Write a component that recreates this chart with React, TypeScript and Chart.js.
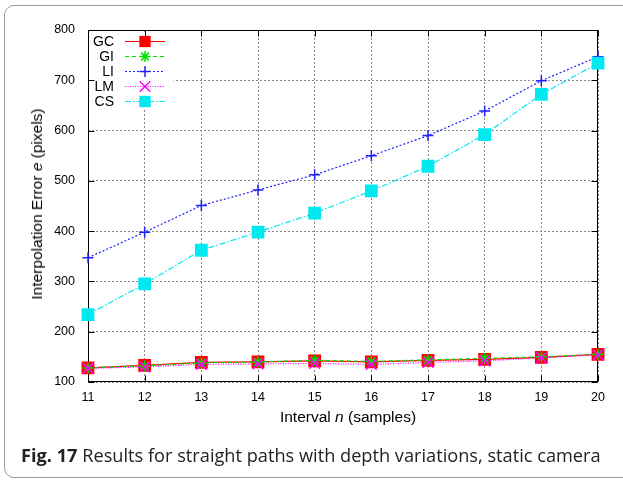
import React, { useEffect, useRef } from 'react';
import { Chart, registerables } from 'chart.js';

Chart.register(...registerables);

const intervals = ['11', '12', '13', '14', '15', '16', '17', '18', '19', '20'];
const gcValues = [128, 133, 139, 140, 142, 140, 143, 145, 149, 155];
const giValues = [128, 132, 138, 140, 143, 141, 144, 147, 150, 155];
const liValues = [347, 398, 451, 482, 512, 550, 590, 639, 699, 747];
const lmValues = [127, 130, 135, 136, 137, 135, 139, 142, 148, 154];
const csValues = [234, 295, 362, 398, 436, 480, 529, 592, 672, 734];
const seriesNames = ['GC', 'GI', 'LI', 'LM', 'CS'];

const FONT = '"Liberation Sans", Arial, Helvetica, sans-serif';

type Marker = 'rect' | 'star' | 'cross' | 'crossRot';

function drawMarker(ctx: CanvasRenderingContext2D, style: Marker, x: number, y: number, r: number, color: string, lw: number) {
  ctx.save();
  ctx.setLineDash([]);
  ctx.fillStyle = color;
  ctx.strokeStyle = color;
  ctx.lineWidth = lw;
  if (style === 'rect') {
    const s = Math.SQRT1_2 * r;
    ctx.fillRect(x - s, y - s, 2 * s, 2 * s);
  } else {
    ctx.beginPath();
    if (style === 'cross' || style === 'star') {
      ctx.moveTo(x - r, y); ctx.lineTo(x + r, y);
      ctx.moveTo(x, y - r); ctx.lineTo(x, y + r);
    }
    if (style === 'crossRot' || style === 'star') {
      const o = Math.SQRT1_2 * r;
      ctx.moveTo(x - o, y - o); ctx.lineTo(x + o, y + o);
      ctx.moveTo(x - o, y + o); ctx.lineTo(x + o, y - o);
    }
    ctx.stroke();
  }
  ctx.restore();
}

const framePlugin = {
  id: 'gnuFrame',
  beforeDatasetsDraw(chart: any) {
    const { ctx, chartArea: a, scales } = chart;
    const L = Math.round(a.left) + 0.5;
    const R = Math.round(a.right) - 0.5;
    const T = Math.round(a.top) + 0.5;
    const B = Math.round(a.bottom) - 0.5;
    ctx.save();
    // opaque key area
    ctx.fillStyle = '#fff';
    ctx.fillRect(L + 1, T + 3, 84, 76);
    ctx.strokeStyle = '#000';
    ctx.lineWidth = 1;
    ctx.setLineDash([]);
    ctx.strokeRect(L, T, R - L, B - T);
    ctx.beginPath();
    scales.y.ticks.forEach((t: any) => {
      const y = Math.round(scales.y.getPixelForValue(t.value)) + 0.5;
      ctx.moveTo(L, y); ctx.lineTo(L + 6, y);
      ctx.moveTo(R, y); ctx.lineTo(R - 6, y);
    });
    intervals.forEach((_, i) => {
      const x = Math.round(scales.x.getPixelForValue(i)) + 0.5;
      ctx.moveTo(x, B); ctx.lineTo(x, B - 6);
      ctx.moveTo(x, T); ctx.lineTo(x, T + 6);
    });
    ctx.stroke();
    ctx.restore();
  },
  afterDatasetsDraw(chart: any) {
    const { ctx, chartArea: a } = chart;
    ctx.save();
    chart.data.datasets.forEach((ds: any, i: number) => {
      const y = a.top + 11.5 + i * 15;
      ctx.fillStyle = '#000';
      ctx.font = `14px ${FONT}`;
      ctx.textAlign = 'right';
      ctx.textBaseline = 'middle';
      ctx.fillText(ds.label, a.left + 26, y + 0.5);
      ctx.save();
      ctx.strokeStyle = ds.borderColor;
      ctx.lineWidth = ds.borderWidth;
      ctx.setLineDash(ds.borderDash || []);
      ctx.beginPath();
      ctx.moveTo(a.left + 37, y);
      ctx.lineTo(a.left + 77, y);
      ctx.stroke();
      ctx.restore();
      drawMarker(ctx, ds.pointStyle, a.left + 57, y, ds.pointRadius, ds.pointBackgroundColor, ds.pointBorderWidth);
    });
    ctx.restore();
  },
};

function makeDataset(label: string, data: number[], color: string, dash: number[], style: Marker, radius: number, order: number) {
  return {
    label,
    data,
    borderColor: color,
    backgroundColor: color,
    pointBackgroundColor: color,
    pointBorderColor: color,
    borderWidth: 1.2,
    borderDash: dash,
    pointStyle: style,
    pointRadius: radius,
    pointBorderWidth: 1.5,
    fill: false,
    tension: 0,
    order,
  };
}

export default function App() {
  const ref = useRef<HTMLCanvasElement | null>(null);

  useEffect(() => {
    document.body.style.margin = '0';
    const canvas = ref.current;
    if (!canvas) return;
    const chart = new Chart(canvas, {
      type: 'line',
      data: {
        labels: intervals,
        datasets: [
          makeDataset(seriesNames[0], gcValues, '#ff0000', [], 'rect', 8, 5),
          makeDataset(seriesNames[1], giValues, '#00e000', [4, 3], 'star', 5.5, 4),
          makeDataset(seriesNames[2], liValues, '#2020ff', [2, 2], 'cross', 5.5, 3),
          makeDataset(seriesNames[3], lmValues, '#ff00ff', [1, 1.5], 'crossRot', 7.5, 2),
          makeDataset(seriesNames[4], csValues, '#00e8f0', [6, 2, 1.5, 2], 'rect', 8, 1),
        ] as any,
      },
      options: {
        responsive: false,
        animation: false,
        devicePixelRatio: 1,
        layout: { padding: { left: 0, right: 25, top: 30, bottom: 0 } },
        plugins: { legend: { display: false }, tooltip: { enabled: false }, title: { display: false } },
        scales: {
          x: {
            type: 'category',
            offset: false,
            afterFit: (s: any) => { s.height = 98; },
            grid: { display: true, color: '#888', lineWidth: 1, drawTicks: false },
            border: { display: false, dash: [2, 2] },
            ticks: { color: '#000', font: { family: FONT, size: 12.5 }, padding: 8, maxRotation: 0, autoSkip: false },
          },
          y: {
            type: 'linear',
            min: 100,
            max: 800,
            afterFit: (s: any) => { s.width = 88; },
            grid: { display: true, color: '#888', lineWidth: 1, drawTicks: false },
            border: { display: false, dash: [2, 2] },
            ticks: { stepSize: 100, color: '#000', font: { family: FONT, size: 12.5 }, padding: 13 },
          },
        },
      },
      plugins: [framePlugin],
    } as any);
    return () => chart.destroy();
  }, []);

  return (
    <div style={{ position: 'relative', width: 623, height: 480, overflow: 'hidden', background: '#fff' }}>
      <div style={{ position: 'absolute', left: 4, top: 5, width: 640, height: 473, boxSizing: 'border-box', border: '1px solid #9a9a9a', borderRadius: 10 }} />
      <canvas ref={ref} width={623} height={480} style={{ position: 'absolute', left: 0, top: 0 }} />
      <div style={{ position: 'absolute', left: 348, top: 417, transform: 'translate(-50%, -50%)', whiteSpace: 'nowrap', fontFamily: FONT, fontSize: 15.5, color: '#000' }}>
        Interval <i>n</i> (samples)
      </div>
      <div style={{ position: 'absolute', left: 37, top: 204, transform: 'translate(-50%, -50%) rotate(-90deg)', whiteSpace: 'nowrap', fontFamily: FONT, fontSize: 15.5, color: '#000' }}>
        Interpolation Error <i>e</i> (pixels)
      </div>
      <div style={{ position: 'absolute', left: 21, top: 455, transform: 'translateY(-50%)', whiteSpace: 'nowrap', fontFamily: '"Open Sans", "Noto Sans", sans-serif', fontSize: 18.2, color: '#222' }}>
        <b>Fig. 17</b> Results for straight paths with depth variations, static camera
      </div>
    </div>
  );
}
